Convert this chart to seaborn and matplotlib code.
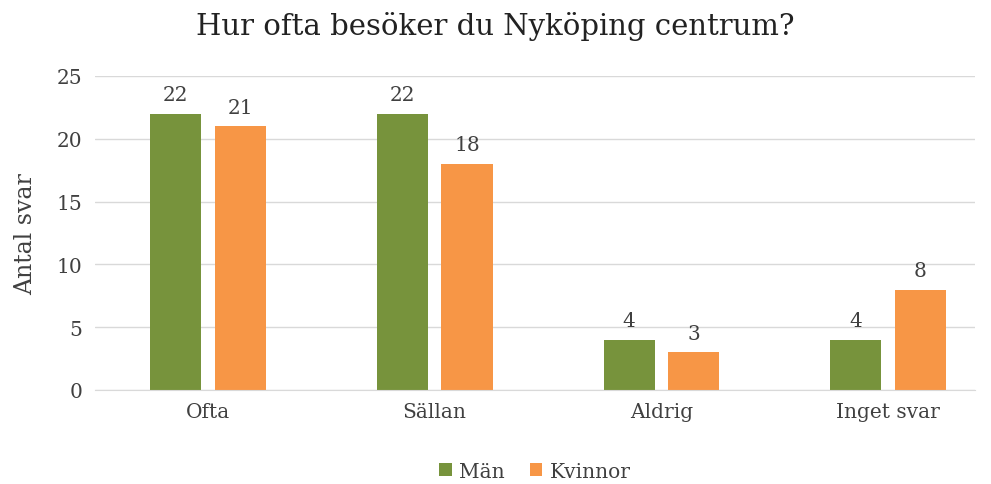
import matplotlib
matplotlib.use("Agg")
import matplotlib.pyplot as plt
import seaborn as sns
import pandas as pd

categories = ["Ofta", "Sällan", "Aldrig", "Inget svar"]
man = [22, 22, 4, 4]
kvinnor = [21, 18, 3, 8]

df = pd.DataFrame({
    "kategori": categories * 2,
    "antal": man + kvinnor,
    "kon": ["Män"] * 4 + ["Kvinnor"] * 4,
})

sns.set_style("white")
plt.rcParams["font.family"] = ["DejaVu Serif"]
text_color = "#404040"

fig = plt.figure(figsize=(9.91, 4.85), dpi=100)
ax = fig.add_axes([95 / 991, 94 / 485, 880 / 991, 314 / 485])

sns.barplot(data=df, x="kategori", y="antal", hue="kon",
            palette={"Män": "#77933C", "Kvinnor": "#F79646"},
            saturation=1, linewidth=0,
            width=0.57, gap=0.21, ax=ax, legend=True)

for cont in ax.containers:
    ax.bar_label(cont, padding=7, fontsize=14.5, color=text_color)

ax.set_ylim(0, 25)
ax.set_yticks([0, 5, 10, 15, 20, 25])
ax.set_xlim(-0.498, 3.383)
ax.yaxis.grid(True, color="#D9D9D9", linewidth=1)
ax.set_axisbelow(True)
for s in ["top", "right", "left"]:
    ax.spines[s].set_visible(False)
ax.spines["bottom"].set_color("#D9D9D9")
ax.tick_params(axis="both", length=0, labelsize=14.5, colors=text_color, pad=9)
ax.set_xlabel("")
ax.set_ylabel("Antal svar", fontsize=17, color=text_color, labelpad=14)
fig.suptitle("Hur ofta besöker du Nyköping centrum?", fontsize=21, y=0.975, color="#222222")

ax.legend(loc="upper center", bbox_to_anchor=(0.5, -0.19), ncol=2, frameon=False,
          fontsize=14.5, handlelength=0.6, handleheight=0.6, handletextpad=0.35,
          columnspacing=1.3, labelcolor=text_color, borderpad=0.1)

fig.savefig("out.png", dpi=100)
